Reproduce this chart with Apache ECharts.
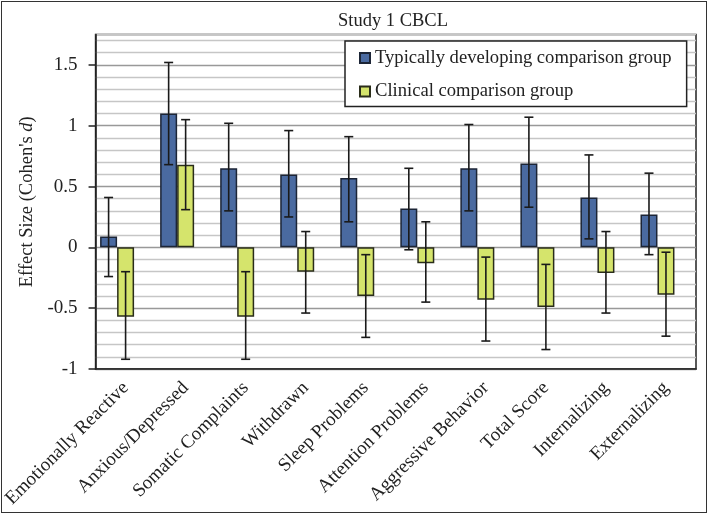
<!DOCTYPE html>
<html>
<head>
<meta charset="utf-8">
<title>Study 1 CBCL</title>
<script src="https://cdn.jsdelivr.net/npm/echarts@6/dist/echarts.min.js"></script>
<style>
  body { margin: 0; background: #fff; }
  #wrap { position: relative; width: 708px; height: 514px; }
  #chart { width: 708px; height: 514px; }
  #frame { position: absolute; left: 1px; top: 1px; width: 706px; height: 512px; box-sizing: border-box; border: 1.5px solid #333; pointer-events: none; }
</style>
</head>
<body>
<div id="wrap"><div id="chart"></div><div id="frame"></div></div>
<script>
var categories = ['Emotionally Reactive', 'Anxious/Depressed', 'Somatic Complaints', 'Withdrawn', 'Sleep Problems',
  'Attention Problems', 'Aggressive Behavior', 'Total Score', 'Internalizing', 'Externalizing'];
// typically developing comparison group
var tdValues = [0.09, 1.10, 0.65, 0.60, 0.57, 0.32, 0.65, 0.69, 0.41, 0.27];
var tdLow = [-0.24, 0.68, 0.30, 0.25, 0.21, -0.02, 0.30, 0.33, 0.07, -0.06];
var tdHigh = [0.41, 1.52, 1.02, 0.96, 0.91, 0.65, 1.01, 1.07, 0.76, 0.61];
// clinical comparison group
var clValues = [-0.57, 0.68, -0.57, -0.20, -0.40, -0.13, -0.43, -0.49, -0.21, -0.39];
var clLow = [-0.92, 0.31, -0.92, -0.54, -0.74, -0.45, -0.77, -0.84, -0.54, -0.73];
var clHigh = [-0.20, 1.05, -0.20, 0.13, -0.06, 0.21, -0.08, -0.14, 0.13, -0.04];
var yTicks = [-1, -0.5, 0, 0.5, 1, 1.5];

var font = "'Liberation Serif', 'Times New Roman', serif";
var barFrac = 0.283;
var tdName = 'Typically developing comparison group';
var clName = 'Clinical comparison group';

function errorBar(shift) {
  return function (params, api) {
    var idx = api.value(0);
    var lo = api.coord([idx, api.value(1)]);
    var hi = api.coord([idx, api.value(2)]);
    var band = api.size([1, 0])[0];
    var x = lo[0] + shift * band * barFrac;
    var cap = 4.5;
    var st = { stroke: '#1a1a1a', lineWidth: 1.6 };
    return {
      type: 'group',
      children: [
        { type: 'line', shape: { x1: x, y1: lo[1], x2: x, y2: hi[1] }, style: st },
        { type: 'line', shape: { x1: x - cap, y1: lo[1], x2: x + cap, y2: lo[1] }, style: st },
        { type: 'line', shape: { x1: x - cap, y1: hi[1], x2: x + cap, y2: hi[1] }, style: st }
      ]
    };
  };
}

var myChart = echarts.init(document.getElementById('chart'));
var option = {
  animation: false,
  title: {
    text: 'Study 1 CBCL',
    left: 338,
    top: 12,
    padding: 0,
    textStyle: { fontFamily: font, fontSize: 18.5, fontWeight: 'normal', color: '#222' }
  },
  legend: {
    orient: 'vertical',
    left: 345,
    top: 41,
    data: [tdName, clName],
    padding: [7, 15, 5, 14],
    itemGap: 13.6,
    itemWidth: 10,
    itemHeight: 10,
    icon: 'rect',
    backgroundColor: '#fff',
    borderColor: '#222',
    borderWidth: 1.5,
    textStyle: { fontFamily: font, fontSize: 18.6, color: '#222', lineHeight: 20 }
  },
  grid: {
    left: 95,
    top: 34.5,
    right: 12,
    bottom: 145,
    show: true,
    backgroundColor: '#fff',
    borderColor: '#222',
    borderWidth: 1.5
  },
  xAxis: {
    type: 'category',
    data: categories,
    axisLine: { onZero: false, lineStyle: { color: '#222', width: 1.5 } },
    axisTick: { show: false },
    axisLabel: { interval: 0, rotate: 45, margin: 16, fontFamily: font, fontSize: 19, color: '#222' },
    splitLine: { show: false }
  },
  yAxis: [{
    type: 'value',
    min: -1,
    max: 1.75,
    interval: 0.5,
    name: "Effect Size (Cohen's {i|d})",
    nameLocation: 'middle',
    nameGap: 52,
    nameTextStyle: {
      fontFamily: font, fontSize: 18.5, color: '#222',
      rich: { i: { fontFamily: font, fontSize: 18.5, fontStyle: 'italic', color: '#222' } }
    },
    axisLine: { show: true, lineStyle: { color: '#222', width: 1.5 } },
    axisTick: { show: true, length: 7, customValues: yTicks, lineStyle: { color: '#222', width: 1.5 } },
    axisLabel: { customValues: yTicks, margin: 18, fontFamily: font, fontSize: 19, color: '#222' },
    splitLine: { show: true, lineStyle: { color: '#999999', width: 1.3 } }
  }, {
    // minor grid lines every 0.1
    type: 'value',
    min: -1,
    max: 1.75,
    interval: 0.1,
    axisLine: { show: false },
    axisTick: { show: false },
    axisLabel: { show: false },
    splitLine: { show: true, lineStyle: { color: ['rgba(0,0,0,0)', '#c6c6c6', '#c6c6c6', '#c6c6c6', '#c6c6c6'], width: 1.3 } }
  }],
  series: [
    {
      name: tdName,
      type: 'bar',
      data: tdValues,
      barWidth: '28.3%',
      barGap: '0%',
      itemStyle: { color: '#4a6aa0', borderColor: '#1c2536', borderWidth: 1.5 }
    },
    {
      name: clName,
      type: 'bar',
      data: clValues,
      barWidth: '28.3%',
      barGap: '0%',
      itemStyle: { color: '#d5e46c', borderColor: '#2a2d1a', borderWidth: 1.5 }
    },
    {
      // empty third slot, keeps the pairs left of centre like the original
      name: 'spacer',
      type: 'bar',
      data: categories.map(function () { return null; }),
      barWidth: '28.3%',
      barGap: '0%',
      silent: true
    },
    {
      type: 'custom',
      renderItem: errorBar(-1),
      encode: { x: 0, y: [1, 2] },
      data: categories.map(function (c, i) { return [i, tdLow[i], tdHigh[i]]; }),
      z: 5
    },
    {
      type: 'custom',
      renderItem: errorBar(0),
      encode: { x: 0, y: [1, 2] },
      data: categories.map(function (c, i) { return [i, clLow[i], clHigh[i]]; }),
      z: 5
    }
  ]
};
myChart.setOption(option);
</script>
</body>
</html>
